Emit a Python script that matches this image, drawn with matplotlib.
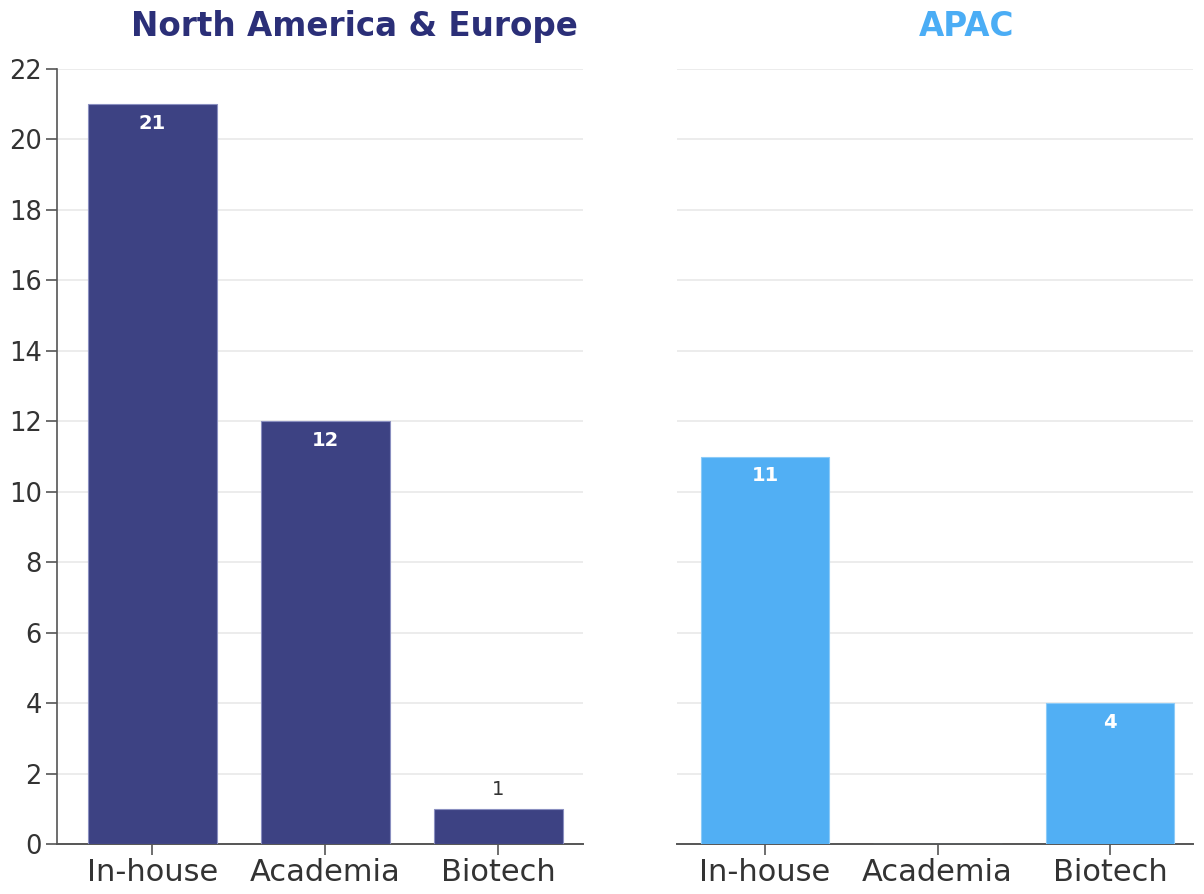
import matplotlib
matplotlib.use('Agg')
import matplotlib.pyplot as plt

CATEGORIES = ['In-house', 'Academia', 'Biotech']
NA_EU_COUNTS = [21, 12, 1]
APAC_COUNTS = [11, 0, 4]
TITLES = ['North America & Europe', 'APAC']
Y_TICKS = list(range(0, 23, 2))

NAVY = '#3d4283'
NAVY_TITLE = '#2b2f78'
SKY = '#51aff4'
SKY_TITLE = '#4badf5'
GRID = '#e9e9e9'
TEXT = '#333333'

plt.rcParams['font.family'] = ['DejaVu Sans']


def draw_panel(ax, counts, bar_color, title, title_color, show_y):
    x = list(range(len(CATEGORIES)))
    ax.bar(x, counts, width=0.745, color=bar_color, edgecolor='#8a8fc0' if bar_color == NAVY else '#8ccbf8',
           linewidth=0.8, zorder=3)
    ax.set_ylim(0, 22)
    ax.set_yticks(Y_TICKS)
    ax.set_xticks(x)
    ax.set_xticklabels(CATEGORIES, fontsize=22, color=TEXT)
    ax.grid(axis='y', color=GRID, linewidth=1.2, zorder=0)
    ax.set_axisbelow(True)
    for side in ['top', 'right']:
        ax.spines[side].set_visible(False)
    ax.spines['bottom'].set_color('#555555')
    ax.spines['bottom'].set_linewidth(1.4)
    ax.tick_params(axis='x', length=8, width=1.2, color='#555555', pad=2)
    if show_y:
        ax.spines['left'].set_color('#555555')
        ax.spines['left'].set_linewidth(1.2)
        ax.tick_params(axis='y', length=8, width=1.2, color='#555555', labelsize=18.5, labelcolor=TEXT, pad=3)
    else:
        ax.spines['left'].set_visible(False)
        ax.tick_params(axis='y', length=0, labelleft=False)

    for xi, v in zip(x, counts):
        if v == 0:
            continue
        if v >= 3:
            ax.text(xi, v - 0.55, str(v), ha='center', va='center', fontsize=14,
                    fontweight='bold', color='white', zorder=4)
        else:
            ax.text(xi, v + 0.55, str(v), ha='center', va='center', fontsize=14,
                    color=TEXT, zorder=4)

    ax.text(1.17, 23.2, title, ha='center', va='center', fontsize=23.5,
            fontweight='bold', color=title_color, clip_on=False)


fig = plt.figure(figsize=(12.04, 8.94), dpi=100)
ax1 = fig.add_axes([57 / 1204, 1 - 844 / 894, (583 - 57) / 1204, (844 - 69) / 894])
ax2 = fig.add_axes([677 / 1204, 1 - 844 / 894, (1193 - 677) / 1204, (844 - 69) / 894])

draw_panel(ax1, NA_EU_COUNTS, NAVY, TITLES[0], NAVY_TITLE, True)
draw_panel(ax2, APAC_COUNTS, SKY, TITLES[1], SKY_TITLE, False)
ax1.set_xlim(-0.55, 2.49)
ax2.set_xlim(-0.51, 2.48)

fig.savefig('out.png', dpi=100, facecolor='white')
